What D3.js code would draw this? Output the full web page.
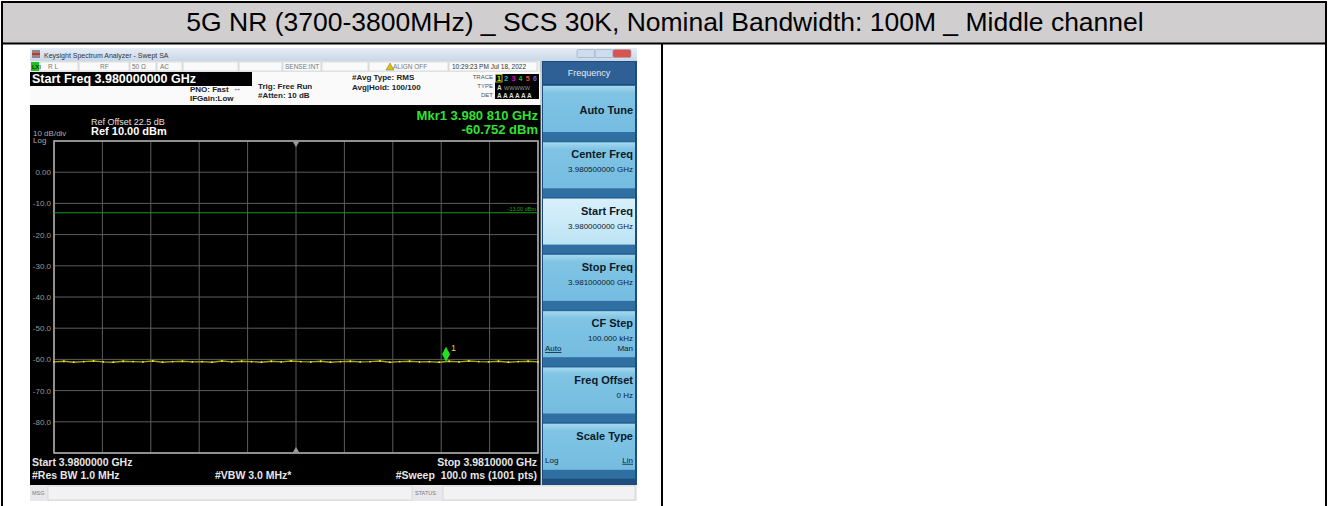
<!DOCTYPE html>
<html>
<head>
<meta charset="utf-8">
<script src="https://cdn.jsdelivr.net/npm/d3@7"></script>
<style>
  body { margin: 0; background: #fff; }
  text { font-family: "Liberation Sans", Arial, sans-serif; }
</style>
</head>
<body>
<svg id="page" width="1330" height="506"></svg>
<script>
// Chart values
var tableTitle = "5G NR (3700-3800MHz) _ SCS 30K, Nominal Bandwidth: 100M _ Middle channel";
var startFreq = 3.980, stopFreq = 3.981;      // GHz
var refLevel = 10, dbPerDiv = 10, numDivs = 10; // dBm
var yTickLevels = [0, -10, -20, -30, -40, -50, -60, -70, -80];
var yTickLabels = ["0.00", "-10.0", "-20.0", "-30.0", "-40.0", "-50.0", "-60.0", "-70.0", "-80.0"];
var limitLevel = -13;
var markerFreq = 3.980810, markerLevel = -60.752;
// trace levels (dBm), evenly spaced across the span
var traceLevels = [-60.8, -60.6, -60.9, -60.7, -60.5, -60.8, -60.9, -60.6, -60.7, -60.8,
                   -60.5, -60.9, -60.7, -60.6, -60.8, -60.7, -60.9, -60.5, -60.8, -60.6,
                   -60.7, -60.9, -60.6, -60.8, -60.5, -60.7, -60.8, -60.6, -60.9, -60.7,
                   -60.6, -60.8, -60.7, -60.5, -60.9, -60.7, -60.6, -60.8, -60.7, -60.9,
                   -60.6, -60.8, -60.5, -60.7, -60.8, -60.6, -60.9, -60.7, -60.6, -60.8];
var softkeys = [
    {title: "Auto Tune", sub: ""},
    {title: "Center Freq", sub: "3.980500000 GHz"},
    {title: "Start Freq", sub: "3.980000000 GHz", selected: true},
    {title: "Stop Freq", sub: "3.981000000 GHz"},
    {title: "CF Step", sub: "100.000 kHz", left: "Auto", right: "Man"},
    {title: "Freq Offset", sub: "0 Hz"},
    {title: "Scale Type", sub: "", left: "Log", right: "Lin"}
];

var svg = d3.select("#page");

// ---------- table ----------
svg.append("rect").attr("x", 2).attr("y", 2).attr("width", 1324).attr("height", 41)
    .attr("fill", "#d0cece");
svg.append("text").attr("x", 665).attr("y", 31).attr("text-anchor", "middle")
    .style("font-size", "26.5px").attr("fill", "#000").text(tableTitle);
var tableLines = [[1, 2, 1327, 2], [2, 1, 2, 506], [1326, 1, 1326, 506], [1, 43.5, 1327, 43.5], [662, 43, 662, 506]];
svg.selectAll("line.tbl").data(tableLines).enter().append("line")
    .attr("x1", function (d) { return d[0]; }).attr("y1", function (d) { return d[1]; })
    .attr("x2", function (d) { return d[2]; }).attr("y2", function (d) { return d[3]; })
    .attr("stroke", "#000").attr("stroke-width", 2);

// ---------- analyzer screenshot ----------
var shot = svg.append("g");
var defs = svg.append("defs");
var g1 = defs.append("linearGradient").attr("id", "titleGrad").attr("x1", 0).attr("x2", 0).attr("y1", 0).attr("y2", 1);
g1.append("stop").attr("offset", "0%").attr("stop-color", "#e6edf6");
g1.append("stop").attr("offset", "100%").attr("stop-color", "#c9d7e8");
var g2 = defs.append("linearGradient").attr("id", "keyGrad").attr("x1", 0).attr("x2", 0).attr("y1", 0).attr("y2", 1);
g2.append("stop").attr("offset", "0%").attr("stop-color", "#a6d8ee");
g2.append("stop").attr("offset", "15%").attr("stop-color", "#80c4e4");
g2.append("stop").attr("offset", "100%").attr("stop-color", "#74bce0");
var g3 = defs.append("linearGradient").attr("id", "selGrad").attr("x1", 0).attr("x2", 0).attr("y1", 0).attr("y2", 1);
g3.append("stop").attr("offset", "0%").attr("stop-color", "#d8f0fa");
g3.append("stop").attr("offset", "100%").attr("stop-color", "#bce4f5");

// title bar
shot.append("rect").attr("x", 30).attr("y", 48).attr("width", 607).attr("height", 13).attr("fill", "url(#titleGrad)");
shot.append("rect").attr("x", 32).attr("y", 50).attr("width", 8).attr("height", 8).attr("fill", "#8a8a8a");
shot.append("rect").attr("x", 32).attr("y", 53).attr("width", 8).attr("height", 2).attr("fill", "#d03030");
shot.append("text").attr("x", 44).attr("y", 57.5).style("font-size", "7px").attr("fill", "#333")
    .text("Keysight Spectrum Analyzer - Swept SA");
var winBtns = [{x: 577, c: "#cfdcee"}, {x: 595, c: "#cfdcee"}, {x: 613, c: "#d9534f"}];
shot.selectAll("rect.win").data(winBtns).enter().append("rect")
    .attr("x", function (d) { return d.x; }).attr("y", 49.5).attr("width", 18).attr("height", 8)
    .attr("rx", 1.5).attr("fill", function (d) { return d.c; }).attr("stroke", "#8ea3bd").attr("stroke-width", 0.6);

// status row
shot.append("rect").attr("x", 30).attr("y", 61).attr("width", 512).attr("height", 11).attr("fill", "#e9ebee");
var statusBoxes = [[40, 38], [79, 50], [130, 26], [157, 25], [183, 55], [239, 43], [283, 38], [322, 46], [369, 79], [449, 88]];
shot.selectAll("rect.st").data(statusBoxes).enter().append("rect")
    .attr("x", function (d) { return d[0]; }).attr("y", 62).attr("width", function (d) { return d[1]; })
    .attr("height", 9).attr("fill", "#fafafa").attr("stroke", "#c8c8c8").attr("stroke-width", 0.6);
shot.append("rect").attr("x", 31).attr("y", 62).attr("width", 8).attr("height", 9).attr("fill", "#20c020");
shot.append("text").attr("x", 32).attr("y", 69).style("font-size", "6px").attr("fill", "#000").text("LXI");
var statusTexts = [[48, "R L"], [100, "RF"], [132, "50 Ω"], [160, "AC"], [285, "SENSE:INT"], [393, "ALIGN OFF"], [452, "10:29:23 PM Jul 18, 2022"]];
shot.selectAll("text.st").data(statusTexts).enter().append("text")
    .attr("x", function (d) { return d[0]; }).attr("y", 69).style("font-size", "6.5px")
    .attr("fill", function (d, i) { return i === 6 ? "#333" : "#777"; }).text(function (d) { return d[1]; });
shot.append("path").attr("d", "M386,70 L390,63 L394,70 Z").attr("fill", "#e0c000").attr("stroke", "#555").attr("stroke-width", 0.4);

// settings area
shot.append("rect").attr("x", 30).attr("y", 72).attr("width", 512).attr("height", 33).attr("fill", "#fafafa");
shot.append("rect").attr("x", 30).attr("y", 72).attr("width", 222).attr("height", 14).attr("fill", "#000");
shot.append("text").attr("x", 32).attr("y", 83).style("font-size", "12.5px").style("font-weight", "bold")
    .attr("fill", "#fff").text("Start Freq 3.980000000 GHz");
var infoTexts = [
    {x: 190, y: 92, t: "PNO: Fast"}, {x: 190, y: 101, t: "IFGain:Low"},
    {x: 258, y: 89, t: "Trig: Free Run"}, {x: 258, y: 98, t: "#Atten: 10 dB"},
    {x: 352, y: 80, t: "#Avg Type: RMS"}, {x: 352, y: 90, t: "Avg|Hold: 100/100"}
];
shot.selectAll("text.info").data(infoTexts).enter().append("text")
    .attr("x", function (d) { return d.x; }).attr("y", function (d) { return d.y; })
    .style("font-size", "8px").style("font-weight", "bold").attr("fill", "#222").text(function (d) { return d.t; });
shot.append("text").attr("x", 233).attr("y", 91).style("font-size", "8px").attr("fill", "#333").text("↔");

// trace box
shot.append("rect").attr("x", 495).attr("y", 74).attr("width", 44).attr("height", 25).attr("fill", "#000");
var traceLabels = [[79, "TRACE"], [88, "TYPE"], [97, "DET"]];
shot.selectAll("text.tl").data(traceLabels).enter().append("text")
    .attr("x", 493).attr("y", function (d) { return d[0]; }).attr("text-anchor", "end")
    .style("font-size", "6px").attr("fill", "#555").text(function (d) { return d[1]; });
var traceColors = ["#e8e800", "#00c8e8", "#e000e0", "#20c020", "#ff4040", "#6060ff"];
shot.append("rect").attr("x", 495.5).attr("y", 74.5).attr("width", 6.5).attr("height", 7.5)
    .attr("fill", "none").attr("stroke", "#e8e800").attr("stroke-width", 0.8);
shot.selectAll("text.tn").data(traceColors).enter().append("text")
    .attr("x", function (d, i) { return 497 + i * 7.2; }).attr("y", 81).style("font-size", "7px").style("font-weight", "bold")
    .attr("fill", function (d) { return d; }).text(function (d, i) { return i + 1; });
shot.append("text").attr("x", 497).attr("y", 89.5).style("font-size", "6.5px").style("font-weight", "bold").attr("fill", "#ddd").text("A");
shot.append("text").attr("x", 504).attr("y", 89.5).style("font-size", "5.5px").attr("fill", "#999").text("WWWWW");
shot.append("text").attr("x", 497).attr("y", 97.5).style("font-size", "6.5px").style("font-weight", "bold").attr("fill", "#ddd")
    .text("A A A A A A");

// black display
shot.append("rect").attr("x", 30).attr("y", 105).attr("width", 511).attr("height", 380).attr("fill", "#000");
shot.append("line").attr("x1", 541).attr("x2", 541).attr("y1", 61).attr("y2", 485).attr("stroke", "#9aa").attr("stroke-width", 1);

shot.append("text").attr("x", 91).attr("y", 125).style("font-size", "9px").attr("fill", "#e0e0e0").text("Ref Offset 22.5 dB");
shot.append("text").attr("x", 91).attr("y", 135).style("font-size", "11px").style("font-weight", "bold").attr("fill", "#fff").text("Ref 10.00 dBm");
shot.append("text").attr("x", 33).attr("y", 136).style("font-size", "8px").attr("fill", "#aaa").text("10 dB/div");
shot.append("text").attr("x", 33).attr("y", 143).style("font-size", "8px").attr("fill", "#aaa").text("Log");
shot.append("text").attr("x", 538).attr("y", 120).attr("text-anchor", "end").style("font-size", "13px")
    .style("font-weight", "bold").attr("fill", "#33e033").text("Mkr1 3.980 810 GHz");
shot.append("text").attr("x", 538).attr("y", 134).attr("text-anchor", "end").style("font-size", "13px")
    .style("font-weight", "bold").attr("fill", "#33e033").text("-60.752 dBm");

// scales
var x = d3.scaleLinear().domain([startFreq, stopFreq]).range([54, 538]);
var y = d3.scaleLinear().domain([refLevel - dbPerDiv * numDivs, refLevel]).range([453, 141]);
var xi = d3.scaleLinear().domain([0, traceLevels.length - 1]).range([startFreq, stopFreq]);

// grid
var plot = shot.append("g");
plot.selectAll("line.gx").data(x.ticks(numDivs)).enter().append("line")
    .attr("x1", function (d) { return x(d); }).attr("x2", function (d) { return x(d); })
    .attr("y1", y.range()[1]).attr("y2", y.range()[0]).attr("stroke", "#5c5c5c").attr("stroke-width", 1);
plot.selectAll("line.gy").data(y.ticks(numDivs)).enter().append("line")
    .attr("x1", x.range()[0]).attr("x2", x.range()[1])
    .attr("y1", function (d) { return y(d); }).attr("y2", function (d) { return y(d); })
    .attr("stroke", "#5c5c5c").attr("stroke-width", 1);
plot.append("rect").attr("x", x.range()[0]).attr("y", y.range()[1])
    .attr("width", x.range()[1] - x.range()[0]).attr("height", y.range()[0] - y.range()[1])
    .attr("fill", "none").attr("stroke", "#a8a8a8").attr("stroke-width", 1.6);
plot.selectAll("text.yl").data(yTickLevels).enter().append("text")
    .attr("x", 51).attr("y", function (d) { return y(d) + 3; }).attr("text-anchor", "end")
    .style("font-size", "8px").attr("fill", "#9a9a9a").text(function (d, i) { return yTickLabels[i]; });

// center freq triangles
var xc = x((startFreq + stopFreq) / 2);
plot.append("path").attr("d", "M" + (xc - 3) + "," + (y.range()[1] + 1) + " L" + (xc + 3) + "," + (y.range()[1] + 1) + " L" + xc + "," + (y.range()[1] + 6) + " Z").attr("fill", "#999");
plot.append("path").attr("d", "M" + (xc - 3) + "," + (y.range()[0] - 1) + " L" + (xc + 3) + "," + (y.range()[0] - 1) + " L" + xc + "," + (y.range()[0] - 6) + " Z").attr("fill", "#999");

// limit line
plot.append("line").attr("x1", x.range()[0]).attr("x2", x.range()[1])
    .attr("y1", y(limitLevel)).attr("y2", y(limitLevel)).attr("stroke", "#169a16").attr("stroke-width", 1);
plot.append("text").attr("x", 536).attr("y", y(limitLevel) - 2).attr("text-anchor", "end")
    .style("font-size", "5.5px").attr("fill", "#1aa01a").text("-13.00 dBm");

// trace
var line = d3.line().x(function (d, i) { return x(xi(i)); }).y(function (d) { return y(d); });
plot.append("path").datum(traceLevels).attr("d", line).attr("fill", "none")
    .attr("stroke", "#a8a612").attr("stroke-width", 1.4);
plot.selectAll("circle.tr").data(traceLevels).enter().append("circle")
    .attr("cx", function (d, i) { return x(xi(i)); }).attr("cy", function (d) { return y(d); })
    .attr("r", 0.9).attr("fill", "#f0ee40");

// marker
var mx = x(markerFreq), my = y(markerLevel);
plot.append("path").attr("d", "M" + mx + "," + (my - 15) + " L" + (mx + 4) + "," + (my - 7.5) + " L" + mx + "," + my + " L" + (mx - 4) + "," + (my - 7.5) + " Z")
    .attr("fill", "#22e022");
plot.append("text").attr("x", mx + 5).attr("y", my - 11).style("font-size", "9px").attr("fill", "#d8d84a").text("1");

// bottom annotation
var bottomTexts = [
    {x: 32, y: 466, a: "start", t: "Start 3.9800000 GHz"}, {x: 32, y: 479, a: "start", t: "#Res BW 1.0 MHz"},
    {x: 215, y: 479, a: "start", t: "#VBW 3.0 MHz*"},
    {x: 537, y: 466, a: "end", t: "Stop 3.9810000 GHz"}, {x: 537, y: 479, a: "end", t: "#Sweep  100.0 ms (1001 pts)"}
];
shot.selectAll("text.bt").data(bottomTexts).enter().append("text")
    .attr("x", function (d) { return d.x; }).attr("y", function (d) { return d.y; })
    .attr("text-anchor", function (d) { return d.a; }).attr("xml:space", "preserve")
    .style("font-size", "10.5px").style("font-weight", "bold").attr("fill", "#e6e6e6").text(function (d) { return d.t; });

// msg bar
shot.append("rect").attr("x", 30).attr("y", 485).attr("width", 607).attr("height", 16).attr("fill", "#e8e8ec");
shot.append("rect").attr("x", 48).attr("y", 486).attr("width", 364).attr("height", 14).attr("fill", "#f2f2f5").attr("stroke", "#c8c8cc").attr("stroke-width", 0.6);
shot.append("rect").attr("x", 443).attr("y", 486).attr("width", 192).attr("height", 14).attr("fill", "#f2f2f5").attr("stroke", "#c8c8cc").attr("stroke-width", 0.6);
shot.append("text").attr("x", 32).attr("y", 495).style("font-size", "5.5px").attr("fill", "#777").text("MSG");
shot.append("text").attr("x", 415).attr("y", 495).style("font-size", "5.5px").attr("fill", "#777").text("STATUS");

// softkey panel
var panel = shot.append("g");
panel.append("rect").attr("x", 542).attr("y", 61).attr("width", 95).attr("height", 424).attr("fill", "#1e4c7c");
panel.append("rect").attr("x", 543).attr("y", 62).attr("width", 92).attr("height", 22).attr("fill", "#2e5f95");
panel.append("text").attr("x", 589).attr("y", 76).attr("text-anchor", "middle").style("font-size", "9px")
    .attr("fill", "#e4ecf4").text("Frequency");
var keyY = d3.scaleLinear().domain([0, 1]).range([86, 142.3]);
var keys = panel.selectAll("g.key").data(softkeys).enter().append("g")
    .attr("transform", function (d, i) { return "translate(543," + keyY(i) + ")"; });
keys.append("rect").attr("x", 0).attr("y", -1).attr("width", 92).attr("height", 56).attr("fill", "#2f6fa2");
keys.append("rect").attr("width", 92).attr("height", 46)
    .attr("fill", function (d) { return d.selected ? "url(#selGrad)" : "url(#keyGrad)"; });
keys.append("text").attr("x", 90).attr("y", function (d) { return d.sub || d.left ? 16 : 28; })
    .attr("text-anchor", "end").style("font-size", "11px").style("font-weight", "bold").attr("fill", "#0c1a28")
    .text(function (d) { return d.title; });
keys.append("text").attr("x", 90).attr("y", 30)
    .attr("text-anchor", "end").style("font-size", "8px").attr("fill", "#10202e")
    .text(function (d) { return d.sub; });
keys.filter(function (d) { return d.left; }).append("text").attr("x", 2)
    .attr("y", function (d) { return d.title === "Scale Type" ? 39 : 40; })
    .style("font-size", "8px").attr("fill", "#10202e").style("text-decoration", function (d) { return d.title === "CF Step" ? "underline" : "none"; })
    .text(function (d) { return d.left; });
keys.filter(function (d) { return d.right; }).append("text").attr("x", 90)
    .attr("y", function (d) { return d.title === "Scale Type" ? 39 : 40; }).attr("text-anchor", "end")
    .style("font-size", "8px").attr("fill", "#10202e").style("text-decoration", function (d) { return d.title === "Scale Type" ? "underline" : "none"; })
    .text(function (d) { return d.right; });
</script>
</body>
</html>
